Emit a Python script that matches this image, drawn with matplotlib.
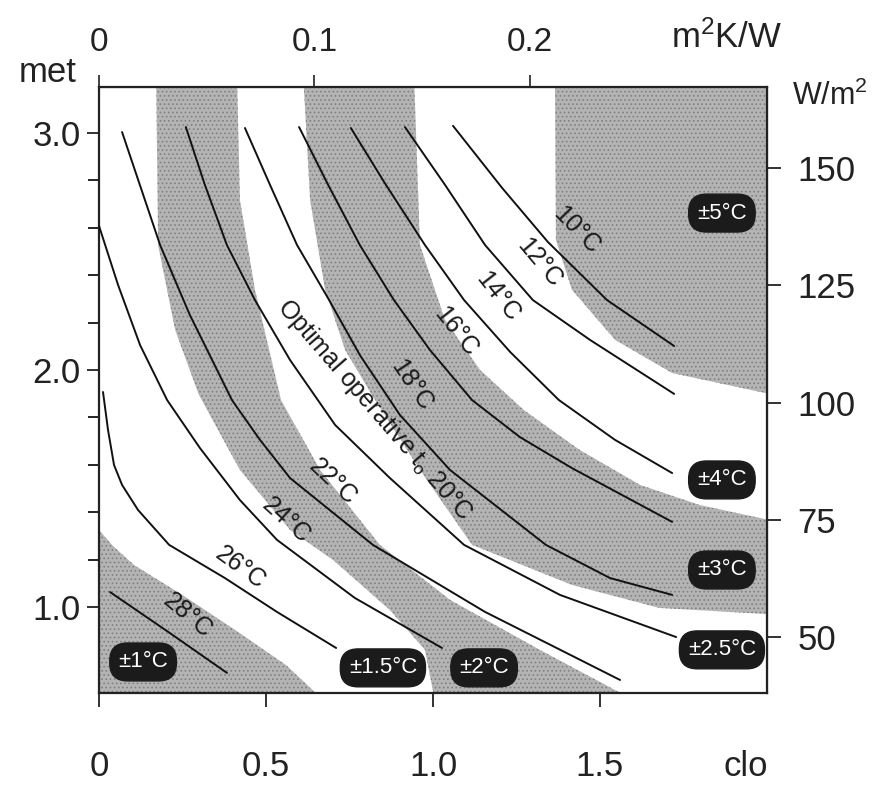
import numpy as np
import matplotlib.pyplot as plt
from matplotlib.patches import Polygon

plt.rcParams['font.family'] = ['Liberation Sans', 'DejaVu Sans']
plt.rcParams['hatch.linewidth'] = 0.7
plt.rcParams['mathtext.fontset'] = 'custom'
plt.rcParams['mathtext.rm'] = 'Liberation Sans'
plt.rcParams['mathtext.it'] = 'Liberation Sans'

# isotherms of optimal operative temperature, (clo, met)
t28_clo = [0.033, 0.207, 0.383]
t28_met = [1.063, 0.895, 0.722]
t26_clo = [0.012, 0.027, 0.045, 0.069, 0.117, 0.210, 0.377, 0.533, 0.710]
t26_met = [1.907, 1.747, 1.599, 1.515, 1.409, 1.262, 1.122, 0.979, 0.827]
t24_clo = [0.000, 0.057, 0.123, 0.204, 0.302, 0.422, 0.533, 0.766, 1.027]
t24_met = [2.608, 2.359, 2.105, 1.873, 1.671, 1.451, 1.283, 1.038, 0.827]
t22_clo = [0.069, 0.183, 0.272, 0.398, 0.482, 0.572, 0.820, 1.156, 1.560]
t22_met = [3.004, 2.527, 2.232, 1.873, 1.705, 1.544, 1.262, 0.979, 0.692]
t20_clo = [0.260, 0.317, 0.383, 0.467, 0.572, 0.707, 0.871, 1.093, 1.380, 1.728]
t20_met = [3.025, 2.781, 2.527, 2.295, 2.042, 1.768, 1.544, 1.262, 1.051, 0.873]
t18_clo = [0.437, 0.512, 0.593, 0.689, 0.781, 0.901, 1.051, 1.338, 1.530, 1.716]
t18_met = [3.021, 2.781, 2.527, 2.295, 2.063, 1.810, 1.578, 1.262, 1.122, 1.051]
t16_clo = [0.599, 0.686, 0.781, 0.883, 0.991, 1.117, 1.260, 1.416, 1.716]
t16_met = [3.025, 2.781, 2.527, 2.295, 2.084, 1.873, 1.717, 1.586, 1.359]
t14_clo = [0.754, 0.859, 0.976, 1.093, 1.231, 1.377, 1.545, 1.716]
t14_met = [3.021, 2.781, 2.527, 2.295, 2.076, 1.873, 1.705, 1.565]
t12_clo = [0.916, 1.036, 1.156, 1.299, 1.470, 1.722]
t12_met = [3.025, 2.781, 2.527, 2.295, 2.127, 1.899]
t10_clo = [1.060, 1.207, 1.344, 1.521, 1.722]
t10_met = [3.030, 2.768, 2.540, 2.295, 2.101]

lines = [(t28_clo, t28_met), (t26_clo, t26_met), (t24_clo, t24_met),
         (t22_clo, t22_met), (t20_clo, t20_met), (t18_clo, t18_met),
         (t16_clo, t16_met), (t14_clo, t14_met), (t12_clo, t12_met),
         (t10_clo, t10_met)]

# curve labels: text, clo, met, rotation
curve_labels = ['28°C', '26°C', '24°C', '22°C', 'Optimal operative $t_o$ 20°C',
                '18°C', '16°C', '14°C', '12°C', '10°C']
label_clo = [0.266, 0.422, 0.560, 0.701, 0.826, 0.937, 1.069, 1.195, 1.320, 1.431]
label_met = [0.962, 1.165, 1.367, 1.527, 1.831, 1.937, 2.160, 2.308, 2.451, 2.591]
label_rot = [-40, -36, -42, -43, -49, -56, -52, -52, -50, -46]

# tolerance zones (grey ones), boundaries in (clo, met)
z1_clo = [0.0, 0.0, 0.040, 0.105, 0.249, 0.416, 0.560, 0.677]
z1_met = [0.60, 1.325, 1.260, 1.177, 1.051, 0.895, 0.755, 0.60]

b2_clo = [0.171, 0.177, 0.228, 0.299, 0.422, 0.572, 0.701, 0.871, 0.976, 1.006]
b2_met = [3.25, 2.527, 2.169, 1.895, 1.578, 1.325, 1.198, 0.987, 0.819, 0.60]
b3_clo = [0.413, 0.422, 0.467, 0.545, 0.662, 0.841, 1.051, 1.320, 1.611]
b3_met = [3.25, 2.717, 2.338, 1.873, 1.578, 1.262, 1.030, 0.819, 0.60]

b4_clo = [0.611, 0.632, 0.677, 0.737, 0.817, 0.961, 1.117, 1.416, 1.677, 2.05]
b4_met = [3.25, 2.717, 2.338, 2.084, 1.895, 1.578, 1.262, 1.093, 0.996, 0.966]
b5_clo = [0.943, 0.961, 1.036, 1.141, 1.272, 1.440, 1.620, 1.799, 2.05]
b5_met = [3.25, 2.527, 2.211, 2.000, 1.831, 1.662, 1.515, 1.430, 1.354]

b6_clo = [1.365, 1.368, 1.416, 1.545, 1.716, 2.05]
b6_met = [3.25, 2.549, 2.338, 2.127, 1.987, 1.886]

# tolerance boxes
box_text = ['±1°C', '±1.5°C', '±2°C', '±2.5°C', '±3°C', '±4°C', '±5°C']
box_clo = [0.132, 0.850, 1.153, 1.865, 1.865, 1.865, 1.865]
box_met = [0.768, 0.743, 0.743, 0.819, 1.156, 1.536, 2.662]

bottom_ticks = [0, 0.5, 1.0, 1.5]
bottom_labels = ['0', '0.5', '1.0', '1.5']
left_ticks = [1.0, 2.0, 3.0]
left_labels = ['1.0', '2.0', '3.0']
left_minor = [1.2, 1.4, 1.6, 1.8, 2.2, 2.4, 2.6, 2.8]
top_ticks = [0, 0.1, 0.2]
top_labels = ['0', '0.1', '0.2']
right_ticks = [50, 75, 100, 125, 150]

fig = plt.figure(figsize=(8.73, 7.92), dpi=100)
ax = fig.add_axes([99/873, 1 - 693/792, 668/873, 606/792])
ax.set_xlim(0, 2.0)
ax.set_ylim(0.637, 3.194)

grey = '#b4b4b4'
dots = '#808080'


def zone(xs, ys):
    p = Polygon(np.column_stack([xs, ys]), closed=True, facecolor=grey,
                edgecolor=dots, hatch='....', linewidth=0, zorder=1)
    ax.add_patch(p)


zone(z1_clo, z1_met)
zone(b2_clo + b3_clo[::-1], b2_met + b3_met[::-1])
zone(b4_clo + b5_clo[::-1], b4_met + b5_met[::-1])
zone(b6_clo + [2.05], b6_met + [3.25])

for xs, ys in lines:
    ax.plot(xs, ys, color='#111111', lw=1.4, zorder=3,
            solid_joinstyle='round', solid_capstyle='round')

for t, x, y, r in zip(curve_labels, label_clo, label_met, label_rot):
    ax.text(x, y, t, rotation=r, rotation_mode='anchor', ha='center', va='center',
            fontsize=18, color='#1a1a1a', zorder=4)

for t, x, y in zip(box_text, box_clo, box_met):
    ax.text(x, y, t, ha='center', va='center', fontsize=16, color='white', zorder=5,
            bbox=dict(boxstyle='round,pad=0.38,rounding_size=0.8',
                      facecolor='#1b1b1b', edgecolor='#1b1b1b'))

for s in ax.spines.values():
    s.set_linewidth(1.6)
    s.set_color('#222222')

ax.set_xticks(bottom_ticks)
ax.set_xticklabels(bottom_labels)
ax.set_yticks(left_ticks)
ax.set_yticklabels(left_labels)
ax.set_yticks(left_minor, minor=True)
ax.tick_params(axis='x', direction='out', length=10, width=1.3, labelsize=25,
               pad=31, colors='#222222')
ax.tick_params(axis='y', direction='out', length=9, width=1.3, labelsize=25,
               pad=4, colors='#222222')
ax.tick_params(axis='y', which='minor', direction='out', length=8, width=1.2)

top = ax.secondary_xaxis('top', functions=(lambda c: c * 0.155, lambda r: r / 0.155))
top.set_xticks(top_ticks)
top.set_xticklabels(top_labels)
top.tick_params(direction='out', length=9, width=1.2, labelsize=24, pad=12,
                colors='#222222')


def met2w(m):
    return 50 + (m - 0.873) * 50.53


def w2met(w):
    return 0.873 + (w - 50) / 50.53


right = ax.secondary_yaxis('right', functions=(met2w, w2met))
right.set_yticks(right_ticks)
right.tick_params(direction='out', length=10, width=1.3, labelsize=25, pad=12,
                  colors='#222222')

fig.text(48/873, 1 - 72/792, 'met', fontsize=25, ha='center', va='center', color='#222222')
fig.text(746/873, 1 - 767/792, 'clo', fontsize=25, ha='center', va='center', color='#222222')
fig.text(727/873, 1 - 38/792, 'm$^2$K/W', fontsize=25, ha='center', va='center', color='#222222')
fig.text(868/873, 1 - 96/792, 'W/m$^2$', fontsize=22, ha='right', va='center', color='#222222')

fig.savefig('out.png', dpi=100, facecolor='white')
